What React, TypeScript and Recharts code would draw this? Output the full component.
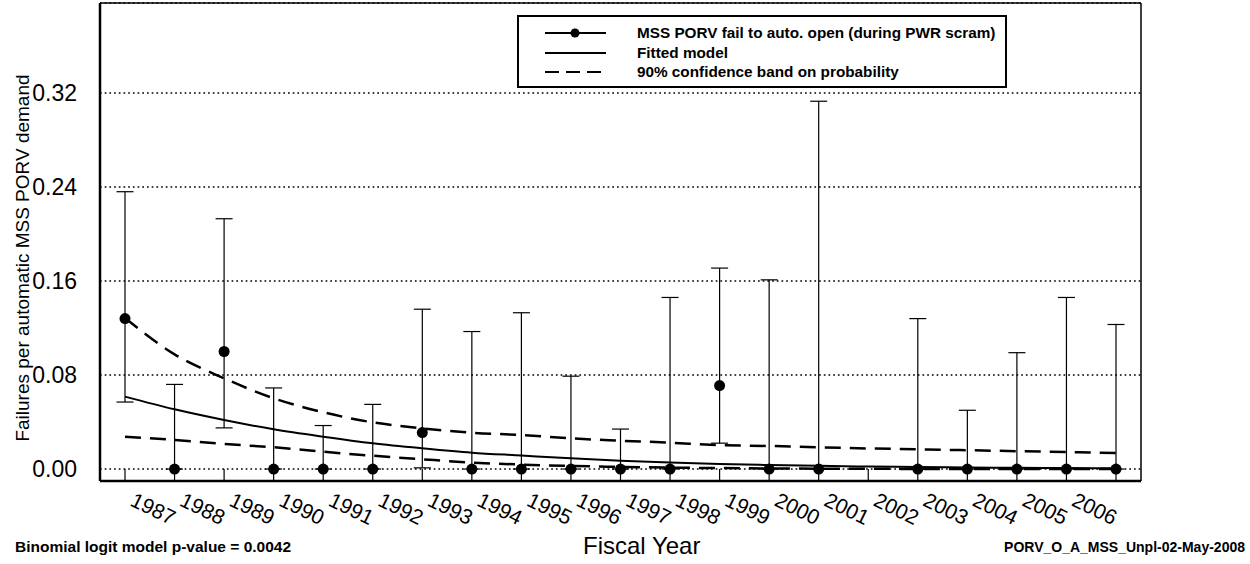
import React from 'react'
import { ComposedChart, Line, XAxis, YAxis, CartesianGrid, ErrorBar, Legend } from 'recharts'

// fiscal years on the category axis (the last one carries no label in the original)
const fiscalYears = ['1987', '1988', '1989', '1990', '1991', '1992', '1993', '1994', '1995', '1996', '1997',
  '1998', '1999', '2000', '2001', '2002', '2003', '2004', '2005', '2006', '2007']
const hiddenTicks = ['2007']

// observed failure fraction per year (null = no demands)
const observed = [0.128, 0, 0.1, 0, 0, 0, 0.031, 0, 0, 0, 0, 0, 0.071, 0, 0, null, 0, 0, 0, 0, 0]
// 90% interval around each observed value
const intervalLow = [0.057, 0, 0.035, 0, 0, 0, 0.001, 0, 0, 0, 0, 0, 0.022, 0, 0, null, 0, 0, 0, 0, 0]
const intervalHigh = [0.236, 0.072, 0.213, 0.069, 0.037, 0.055, 0.136, 0.117, 0.133, 0.079, 0.034,
  0.146, 0.171, 0.161, 0.313, null, 0.128, 0.05, 0.099, 0.146, 0.123]

// fitted logit model and its 90% band
const fitted = [0.0616, 0.0508, 0.0417, 0.0338, 0.0275, 0.0219, 0.0176, 0.0139, 0.0115, 0.0091, 0.0071,
  0.0055, 0.0043, 0.0034, 0.0027, 0.0021, 0.0017, 0.0013, 0.001, 0.0008, 0.0006]
const bandUpper = [0.1285, 0.0976, 0.0772, 0.0602, 0.0483, 0.0397, 0.0346, 0.0309, 0.0289, 0.0261, 0.0241,
  0.0224, 0.0204, 0.0196, 0.0185, 0.0175, 0.0168, 0.016, 0.0152, 0.0145, 0.0136]
const bandLower = [0.0275, 0.0247, 0.0213, 0.0185, 0.0147, 0.0113, 0.0083, 0.0055, 0.0038, 0.0026, 0.0018,
  0.0012, 0.0008, 0.0005, 0.0003, 0.0002, 0.0001, 0.0001, 0.0001, 0, 0]

const yTicks = [0, 0.08, 0.16, 0.24, 0.32]
const yDomain = [-0.0102, 0.3966]

const data = fiscalYears.map((year, i) => ({
  year,
  rate: observed[i],
  lo: intervalLow[i],
  hi: intervalHigh[i],
  fit: fitted[i],
  upper: bandUpper[i],
  lower: bandLower[i],
}))

const FONT = '"Liberation Sans", Arial, sans-serif'

const YearTick = ({ x, y, payload }: any) => {
  const label = hiddenTicks.includes(payload.value) ? '' : payload.value
  const tx = x + 4
  const ty = y + 24
  return (
    <g>
      <line x1={x} y1={y} x2={x} y2={y - 12} stroke="#000" strokeWidth={1.2} />
      <text x={tx} y={ty} transform={`rotate(26, ${tx}, ${ty})`} fontSize={21} fill="#000" textAnchor="start">
        {label}
      </text>
    </g>
  )
}

const YTitle = ({ viewBox }: any) => (
  <text transform={`translate(22, ${viewBox.y + viewBox.height / 2 + 16}) rotate(-90)`} textAnchor="middle"
    dominantBaseline="central" fontSize={19} fill="#000">
    Failures per automatic MSS PORV demand
  </text>
)

const LegendBox = () => (
  <svg width={490} height={73} style={{ display: 'block' }}>
    <rect x={1} y={1} width={488} height={71} fill="#fff" stroke="#000" strokeWidth={2} />
    <line x1={28} y1={18} x2={89} y2={18} stroke="#000" strokeWidth={2} />
    <circle cx={58} cy={18} r={4.5} fill="#000" />
    <line x1={28} y1={38} x2={89} y2={38} stroke="#000" strokeWidth={2} />
    <line x1={28} y1={57} x2={89} y2={57} stroke="#000" strokeWidth={2} strokeDasharray="14 7" />
    <g fontSize={15.3} fontWeight="bold" fill="#000">
      <text x={120} y={23}>MSS PORV fail to auto. open (during PWR scram)</text>
      <text x={120} y={43}>Fitted model</text>
      <text x={120} y={62}>90% confidence band on probability</text>
    </g>
  </svg>
)

export default function App() {
  return (
    <div style={{ position: 'absolute', left: 0, top: 0, width: 1250, height: 564, background: '#fff', fontFamily: FONT }}>
      <ComposedChart width={1250} height={564} data={data} margin={{ top: 0, right: 0, bottom: 0, left: 0 }}>
        <CartesianGrid vertical={false} stroke="#000" strokeWidth={1.7} strokeDasharray="1.7 3" />
        <XAxis dataKey="year" height={83} tick={<YearTick />} tickLine={false} tickSize={0} tickMargin={0}
          interval={0} padding={{ left: 25, right: 25 }} axisLine={{ stroke: '#000', strokeWidth: 2.5 }} />
        <XAxis xAxisId="top" dataKey="year" orientation="top" height={3} tick={false} tickLine={false}
          axisLine={{ stroke: '#000', strokeWidth: 1.5 }} />
        <YAxis domain={yDomain} ticks={yTicks} allowDataOverflow width={100}
          tickFormatter={(v: number) => v.toFixed(2)} tickLine={false} tickMargin={17}
          tick={{ fontSize: 23, fill: '#000' }} axisLine={{ stroke: '#000', strokeWidth: 2.5 }}
          label={<YTitle />} />
        <YAxis yAxisId="right" orientation="right" domain={yDomain} width={109} tick={false}
          tickLine={false} axisLine={{ stroke: '#000', strokeWidth: 1.5 }} />
        <Legend content={<LegendBox />} layout="horizontal" verticalAlign="middle" align="center"
          wrapperStyle={{ position: 'absolute', left: 517, top: 15, width: 490, height: 73 }} />
        <Line dataKey="upper" type="monotone" stroke="#000" strokeWidth={2.5} strokeDasharray="16 9" dot={false}
          isAnimationActive={false} legendType="none" />
        <Line dataKey="lower" type="monotone" stroke="#000" strokeWidth={2.5} strokeDasharray="16 9" dot={false}
          isAnimationActive={false} legendType="none" />
        <Line dataKey="fit" type="monotone" stroke="#000" strokeWidth={2} dot={false}
          isAnimationActive={false} legendType="none" />
        <Line dataKey="rate" stroke="none" dot={{ r: 5.5, fill: '#000', stroke: '#000', strokeWidth: 0 }}
          activeDot={false} isAnimationActive={false} legendType="none">
          <ErrorBar dataKey={(d: any) => (d.rate == null ? null : [d.rate - d.lo, d.hi - d.rate])}
            width={8.5} stroke="#000" strokeWidth={1.2} direction="y" />
        </Line>
      </ComposedChart>
      <div style={{ position: 'absolute', left: 15, top: 538, fontSize: 15.5, fontWeight: 'bold', whiteSpace: 'nowrap' }}>
        Binomial logit model p-value = 0.0042
      </div>
      <div style={{ position: 'absolute', left: 583, top: 532, fontSize: 24, whiteSpace: 'nowrap' }}>
        Fiscal Year
      </div>
      <div style={{ position: 'absolute', right: 5, top: 539, fontSize: 14, fontWeight: 'bold', whiteSpace: 'nowrap' }}>
        PORV_O_A_MSS_Unpl-02-May-2008
      </div>
    </div>
  )
}
